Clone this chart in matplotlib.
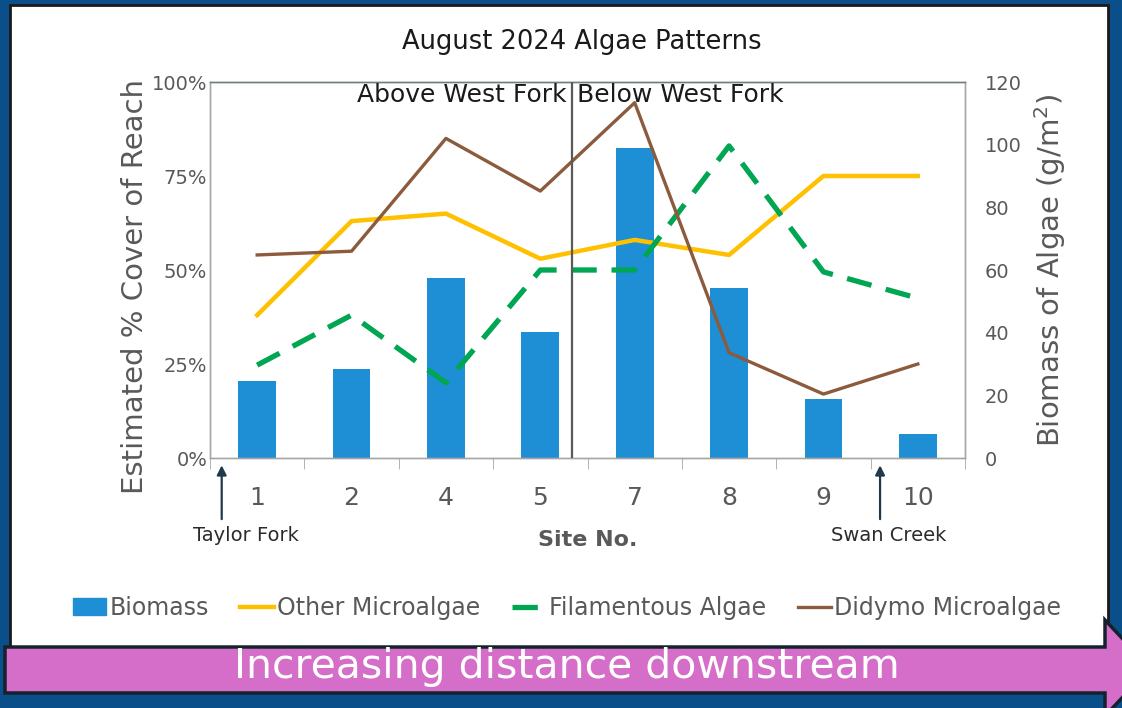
import matplotlib.pyplot as plt
from matplotlib.patches import Rectangle, Polygon
from matplotlib.lines import Line2D
import numpy as np

# sites and measurements
sites = ['1', '2', '4', '5', '7', '8', '9', '10']
biomass = [24.5, 28.3, 57.6, 40.3, 98.9, 54.4, 18.8, 7.7]          # g/m2
other_micro = [38, 63, 65, 53, 58, 54, 75, 75]                      # % cover
filamentous = [24.7, 38, 20, 50, 50, 83, 49.5, 42.5]                # % cover
didymo = [54, 55, 85, 71, 94.5, 28, 17, 25]                         # % cover

navy = '#0b4f8a'
grey = '#595959'
dash = (0, (4.8, 2.8))

W, H = 1122, 708
fig = plt.figure(figsize=(W / 100, H / 100), dpi=100)
fig.patch.set_facecolor(navy)

# white card behind the chart
fig.patches.append(Rectangle((10 / W, 58 / H), 1098 / W, 645 / H, transform=fig.transFigure,
                             facecolor='white', edgecolor='#1a1a1a', lw=2, zorder=-5))

ax = fig.add_axes([210 / W, 1 - 458 / H, 755 / W, 376 / H])
ax2 = ax.twinx()
x = np.arange(len(sites))

ax2.bar(x, biomass, width=0.4, color='#1e8fd5', zorder=2)
ax2.set_ylim(0, 120)
ax2.set_yticks(range(0, 121, 20))

ax.plot(x, other_micro, color='#ffc000', lw=3.2, zorder=3)
ax.plot(x, filamentous, color='#00a651', lw=3.8, ls=dash, zorder=3)
ax.plot(x, didymo, color='#8c5a3c', lw=2.4, zorder=3)
ax.set_zorder(ax2.get_zorder() + 1)
ax.patch.set_visible(False)
ax2.patch.set_visible(False)

ax.set_ylim(0, 100)
ax.set_yticks([0, 25, 50, 75, 100])
ax.set_yticklabels(['0%', '25%', '50%', '75%', '100%'])
ax.set_xlim(-0.5, len(sites) - 0.5)
ax.set_xticks(x)
ax.set_xticklabels(sites)
ax.set_xticks(np.arange(len(sites) + 1) - 0.5, minor=True)
ax.tick_params(axis='x', which='major', length=0, labelsize=18, labelcolor=grey, pad=20)
ax.tick_params(axis='x', which='minor', length=8, color='#a6a6a6', direction='out')
ax.tick_params(axis='y', length=0, labelsize=14, labelcolor=grey, pad=2)
ax2.tick_params(axis='y', length=0, labelsize=14, labelcolor=grey, pad=14)
for a in (ax, ax2):
    for s in a.spines.values():
        s.set_color('#a6a6a6')
        s.set_linewidth(1)
    a.spines['top'].set_color('#6f7f80')

# split between the two reaches
split = 3.335
ax.axvline(split, color=grey, lw=1.6, zorder=4)
ax.text(split - 0.06, 0.965, 'Above West Fork', transform=ax.get_xaxis_transform(),
        ha='right', va='center', fontsize=18, color='#1a1a1a')
ax.text(split + 0.05, 0.965, 'Below West Fork', transform=ax.get_xaxis_transform(),
        ha='left', va='center', fontsize=18, color='#1a1a1a')

# tributary markers
xt = ax.get_xaxis_transform()
for xa, xlab, name in [(-0.376, -0.12, 'Taylor Fork'), (6.60, 6.69, 'Swan Creek')]:
    ax.annotate('', xy=(xa, -0.012), xytext=(xa, -0.17), xycoords=xt, textcoords=xt,
                arrowprops=dict(arrowstyle='-|>', color='#1f3a4d', lw=1.6, mutation_scale=14),
                annotation_clip=False)
    ax.text(xlab, -0.205, name, transform=xt, ha='center', va='center',
            fontsize=14, color='#2b2b2b')

fig.text(582 / W, 1 - 42 / H, 'August 2024 Algae Patterns', ha='center', va='center',
         fontsize=18.5, color='#1a1a1a')
fig.text(588 / W, 1 - 540 / H, 'Site No.', ha='center', va='center',
         fontsize=16, fontweight='bold', color=grey)
fig.text(135 / W, 1 - 287 / H, 'Estimated % Cover of Reach', rotation=90,
         ha='center', va='center', fontsize=21, color=grey)
fig.text(1050 / W, 1 - 270 / H, 'Biomass of Algae (g/m$^2$)', rotation=90,
         ha='center', va='center', fontsize=21, color=grey)

handles = [Rectangle((0, 0), 1, 1, color='#1e8fd5'),
           Line2D([], [], color='#ffc000', lw=3.2),
           Line2D([], [], color='#00a651', lw=3.8, ls=dash),
           Line2D([], [], color='#8c5a3c', lw=2.4)]
labels = ['Biomass', 'Other Microalgae', 'Filamentous Algae', 'Didymo Microalgae']
fig.legend(handles, labels, loc='center', bbox_to_anchor=(567 / W, 1 - 608 / H), ncol=4,
           frameon=False, fontsize=17, handlelength=1.4, handletextpad=0.15,
           columnspacing=1.35, labelcolor=grey)

# downstream arrow along the bottom
pts = [(5, 647), (1105, 647), (1105, 620), (1150, 668), (1105, 716), (1105, 693), (5, 693)]
fig.patches.append(Polygon([(px / W, 1 - py / H) for px, py in pts], closed=True,
                           transform=fig.transFigure, facecolor='#d46ec8',
                           edgecolor='#14222e', lw=2.5, zorder=5))
fig.text(567 / W, 1 - 667 / H, 'Increasing distance downstream', ha='center', va='center',
         fontsize=29.5, color='white', zorder=6)

fig.savefig('out.png', dpi=100, facecolor=fig.get_facecolor())
